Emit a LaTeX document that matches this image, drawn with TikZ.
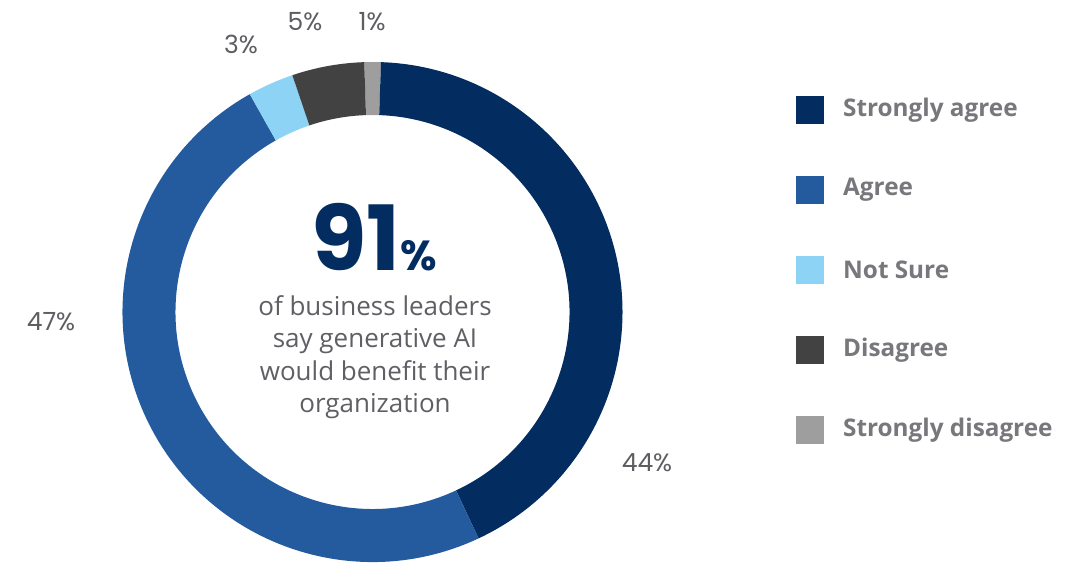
\documentclass[tikz,border=0pt]{standalone}
\usepackage{fontspec}
\setmainfont{Open Sans}
\newfontfamily\popfont{Poppins}
\definecolor{navy}{HTML}{032D60}
\definecolor{midblue}{HTML}{235B9E}
\definecolor{lightblue}{HTML}{8DD3F6}
\definecolor{darkgray}{HTML}{424242}
\definecolor{lightgray}{HTML}{9E9E9E}
\definecolor{legtext}{HTML}{77777C}
\definecolor{bodytext}{HTML}{5F6065}
\definecolor{pcttext}{HTML}{5D5D62}
\newcommand{\seg}[3]{%
  \fill[#1] ($(C)+(#2:250)$) arc[start angle=#2, end angle=#3, radius=250]
    -- ($(C)+(#3:197)$) arc[start angle=#3, end angle=#2, radius=197] -- cycle;}
\usetikzlibrary{calc}
\begin{document}
\begin{tikzpicture}[x=1pt,y=1pt,
  legbox/.style={minimum size=28pt, inner sep=0pt},
  legtxt/.style={anchor=west, inner sep=0pt, text=legtext, font=\bfseries\fontsize{24.3}{27}\selectfont},
  pct/.style={inner sep=0pt, text=pcttext, font=\popfont\fontsize{25}{28}\selectfont}]
\useasboundingbox[fill=white] (0,0) rectangle (1075,563);
\coordinate (C) at (372.5,251);
\seg{lightgray}{91.9}{88.05}
\seg{navy}{88.05}{-64.9}
\seg{midblue}{-64.9}{-240.6}
\seg{lightblue}{119.4}{108.7}
\seg{darkgray}{108.7}{91.9}
% center text
\node[inner sep=0pt, anchor=base, text=navy] (big) at (374,293)
  {\popfont\bfseries\fontsize{90}{90}\selectfont 91\fontsize{42}{42}\selectfont\%};
\node[inner sep=0pt, align=center, text=bodytext, font=\fontsize{26}{32.5}\selectfont] (body) at (375,206)
  {of business leaders\\say generative AI\\would benefit their\\organization};
% percent labels
\node[pct] (p47) at (51,241) {47\%};
\node[pct] (p44) at (647,100) {44\%};
\node[pct] (p3) at (241,519) {3\%};
\node[pct] (p5) at (305,541) {5\%};
\node[pct] (p1) at (372,541) {1\%};
% legend
\node[legbox, fill=navy] (l1) at (810,453) {};
\node[legbox, fill=midblue] (l2) at (810,373) {};
\node[legbox, fill=lightblue] (l3) at (810,293) {};
\node[legbox, fill=darkgray] (l4) at (810,213) {};
\node[legbox, fill=lightgray] (l5) at (810,133) {};
\node[legtxt] (t1) at (843,453) {Strongly agree};
\node[legtxt] (t2) at (843,373) {Agree};
\node[legtxt] (t3) at (843,293) {Not Sure};
\node[legtxt] (t4) at (843,213) {Disagree};
\node[legtxt] (t5) at (843,133) {Strongly disagree};
\end{tikzpicture}
\end{document}
